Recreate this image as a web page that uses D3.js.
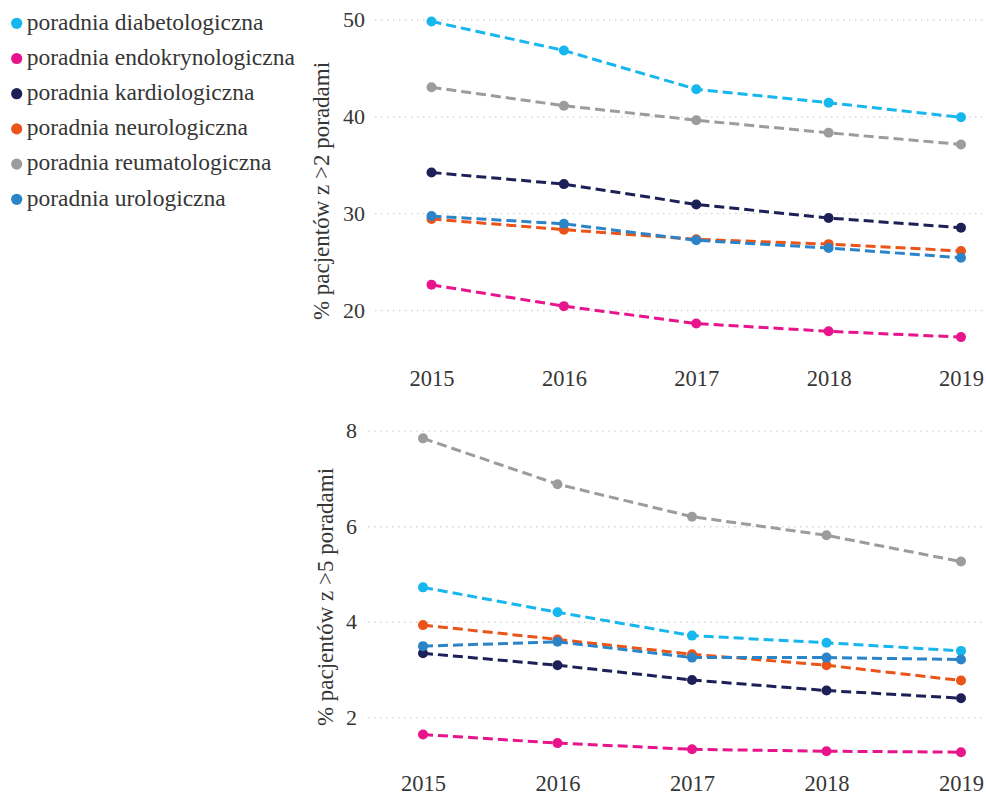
<!DOCTYPE html>
<html><head><meta charset="utf-8">
<script src="https://cdn.jsdelivr.net/npm/d3@7"></script>
<style>body{margin:0;background:#fff;}</style>
</head>
<body><svg id="c" width="986" height="794" font-family="Liberation Serif"></svg>
<script>
const years = [2015, 2016, 2017, 2018, 2019];
const clinics = ["poradnia diabetologiczna","poradnia endokrynologiczna","poradnia kardiologiczna","poradnia neurologiczna","poradnia reumatologiczna","poradnia urologiczna"];
const colors = ["#16b6ee","#e8148c","#1d2056","#ea5419","#9c9c9c","#2b84c8"];
// % patients with >2 visits
const over2_diab = [49.8, 46.8, 42.8, 41.4, 39.9];
const over2_endo = [22.6, 20.4, 18.6, 17.8, 17.2];
const over2_kard = [34.2, 33.0, 30.9, 29.5, 28.5];
const over2_neur = [29.4, 28.3, 27.3, 26.8, 26.1];
const over2_reum = [43.0, 41.1, 39.6, 38.3, 37.1];
const over2_urol = [29.7, 28.9, 27.2, 26.4, 25.4];
// % patients with >5 visits
const over5_diab = [4.72, 4.20, 3.71, 3.56, 3.39];
const over5_endo = [1.64, 1.46, 1.33, 1.29, 1.27];
const over5_kard = [3.34, 3.09, 2.78, 2.56, 2.40];
const over5_neur = [3.93, 3.63, 3.32, 3.09, 2.77];
const over5_reum = [7.84, 6.88, 6.20, 5.81, 5.26];
const over5_urol = [3.49, 3.58, 3.25, 3.25, 3.21];
const ticksTop = [20, 30, 40, 50];
const ticksBottom = [2, 4, 6, 8];
const titleTop = "% pacjentów z >2 poradami";
const titleBottom = "% pacjentów z >5 poradami";

const SERIF = "Liberation Serif";
const TXT = "#363636";
const svg = d3.select("#c");

function styleText(sel, size){
  sel.attr("font-family", SERIF).attr("font-size", size).attr("fill", TXT)
     .style("font-family", SERIF).style("font-size", size + "px");
}

function panel(cfg){
  const g = svg.append("g");
  const x = d3.scalePoint().domain(years).range([cfg.x0, cfg.x1]);
  const y = d3.scaleLinear().domain(cfg.domain).range(cfg.range);
  // y axis with dotted gridlines
  const ya = g.append("g").attr("transform", `translate(${cfg.gx},0)`)
    .call(d3.axisLeft(y).tickValues(cfg.ticks).tickSize(-(cfg.gx2 - cfg.gx)).tickPadding(cfg.pad).tickFormat(d3.format("d")));
  ya.attr("font-family", SERIF);
  ya.select(".domain").remove();
  ya.selectAll(".tick line").attr("stroke","#d4d4d4").attr("stroke-width",1.3).attr("stroke-dasharray","1.5,4.5");
  styleText(ya.selectAll(".tick text"), 22);
  // x axis
  const xa = g.append("g").attr("transform", `translate(0,${cfg.xy})`)
    .call(d3.axisBottom(x).tickSize(0).tickPadding(0).tickFormat(d3.format("d")));
  xa.attr("font-family", SERIF);
  xa.select(".domain").remove();
  styleText(xa.selectAll(".tick text"), 22.5);
  // title
  const t = g.append("text").attr("transform", `translate(${cfg.tx},${cfg.ty}) rotate(-90)`)
    .attr("text-anchor","middle").text(cfg.title);
  styleText(t, 23);
  // lines
  const line = d3.line().x((d,i)=>x(years[i])).y(d=>y(d));
  cfg.series.forEach((s,k)=>{
    g.append("path").datum(s).attr("d", line).attr("fill","none")
      .attr("stroke", colors[k]).attr("stroke-width",3).attr("stroke-dasharray","10,5");
    g.selectAll(null).data(s).enter().append("circle")
      .attr("cx",(d,i)=>x(years[i])).attr("cy",d=>y(d)).attr("r",5).attr("fill",colors[k]);
  });
}

panel({x0:431.5, x1:961, domain:[20,50], range:[310,19.5], ticks:ticksTop, gx:375, gx2:986, pad:10, xy:370.5,
  tx:329, ty:191, title:titleTop,
  series:[over2_diab, over2_endo, over2_kard, over2_neur, over2_reum, over2_urol]});
panel({x0:423, x1:961, domain:[2,8], range:[717.3,430.7], ticks:ticksBottom, gx:368, gx2:986, pad:11, xy:775.5,
  tx:333, ty:597, title:titleBottom,
  series:[over5_diab, over5_endo, over5_kard, over5_neur, over5_reum, over5_urol]});

// legend
const lg = svg.append("g");
clinics.forEach((c,i)=>{
  const yy = 23.3 + i*35.2;
  lg.append("circle").attr("cx",16.7).attr("cy",yy).attr("r",5.6).attr("fill",colors[i]);
  const t = lg.append("text").attr("x",26.7).attr("y",yy).attr("dy","0.27em").text(c);
  styleText(t, 23.5);
});
</script></body></html>
